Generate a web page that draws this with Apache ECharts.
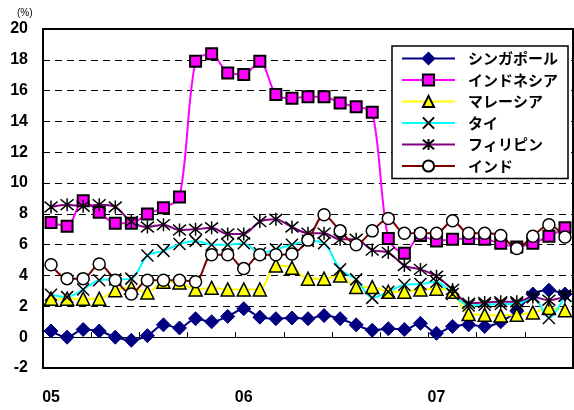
<!DOCTYPE html>
<html>
<head>
<meta charset="utf-8">
<script src="https://cdn.jsdelivr.net/npm/echarts@6/dist/echarts.min.js"></script>
<style>
  html, body { margin: 0; padding: 0; background: #fff; }
  #chart { width: 574px; height: 410px; }
</style>
</head>
<body>
<div id="chart"></div>
<script>
// Monthly categories, Jan 2005 - Sep 2007
const categories = [
  '2005-01','2005-02','2005-03','2005-04','2005-05','2005-06','2005-07','2005-08','2005-09','2005-10','2005-11','2005-12',
  '2006-01','2006-02','2006-03','2006-04','2006-05','2006-06','2006-07','2006-08','2006-09','2006-10','2006-11','2006-12',
  '2007-01','2007-02','2007-03','2007-04','2007-05','2007-06','2007-07','2007-08','2007-09'
];
// Year labels shown under January of each year
const yearLabels = { '2005-01': '05', '2006-01': '06', '2007-01': '07' };

const seriesNames = ['シンガポール', 'インドネシア', 'マレーシア', 'タイ', 'フィリピン', 'インド'];

// Consumer price inflation, % year on year
const singapore   = [0.4,0.0,0.5,0.4,0.0,-0.2,0.1,0.8,0.6,1.2,1.0,1.35,1.85,1.3,1.2,1.25,1.2,1.4,1.2,0.8,0.45,0.55,0.5,0.9,0.25,0.7,0.8,0.7,1.0,1.7,2.8,3.05,2.8];
const indonesia   = [7.45,7.2,8.85,8.1,7.4,7.4,8.0,8.4,9.1,17.9,18.4,17.15,17.05,17.9,15.75,15.5,15.6,15.6,15.2,14.95,14.6,6.4,5.45,6.6,6.25,6.35,6.4,6.35,6.1,5.85,6.1,6.55,7.1];
const malaysia    = [2.5,2.5,2.5,2.5,3.05,3.2,2.9,3.6,3.55,3.1,3.2,3.1,3.1,3.1,4.65,4.5,3.8,3.8,4.0,3.25,3.25,2.95,2.95,3.1,3.15,2.95,1.5,1.45,1.4,1.45,1.6,1.9,1.75];
const thailand    = [2.75,2.6,3.1,3.7,3.75,3.8,5.3,5.6,6.05,6.25,6.0,6.0,6.1,5.45,5.7,6.0,6.25,6.1,4.4,3.75,2.55,2.95,3.4,3.45,3.6,2.8,2.05,2.1,2.15,2.15,2.6,1.25,2.7];
const philippines = [8.45,8.6,8.5,8.6,8.45,7.5,7.15,7.3,6.95,7.0,7.1,6.7,6.7,7.5,7.65,7.15,6.75,6.75,6.35,6.35,5.65,5.5,4.65,4.4,3.95,3.1,2.2,2.25,2.3,2.3,2.6,2.4,2.65];
const india       = [4.7,3.8,3.8,4.75,3.7,2.8,3.7,3.7,3.7,3.6,5.35,5.35,4.45,5.35,5.35,5.4,6.3,7.95,6.9,6.0,6.9,7.7,6.75,6.75,6.75,7.55,6.75,6.75,6.6,5.75,6.55,7.3,6.5];

const yMin = -2, yMax = 20, yStep = 2;

const numFont = '"Liberation Sans Narrow", "Liberation Sans", Arial, sans-serif';
const cjkFont = '"Noto Sans CJK JP", "Noto Sans", sans-serif';

// Stroke-only marker shapes
const crossPath = 'path://M0,0L10,10M10,0L0,10';
const starPath = 'path://M0,0L10,10M10,0L0,10M5,-1L5,11';

function lineSeries(name, data, lineColor, symbol, size, itemStyle) {
  return {
    name: name,
    type: 'line',
    data: data,
    xAxisIndex: 0,
    yAxisIndex: 0,
    smooth: 0.3,
    showAllSymbol: true,
    symbol: symbol,
    symbolSize: size,
    color: lineColor,
    lineStyle: { color: lineColor, width: 2 },
    itemStyle: itemStyle,
    emphasis: { disabled: true },
    animation: false
  };
}

const chart = echarts.init(document.getElementById('chart'), null, { renderer: 'canvas' });

chart.setOption({
  animation: false,
  backgroundColor: '#fff',
  grid: {
    left: 43, right: 1, top: 29, bottom: 42,
    show: true,
    borderColor: '#000',
    borderWidth: 2,
    backgroundColor: 'transparent'
  },
  graphic: [{
    type: 'text',
    left: 17, top: 8,
    style: { text: '(%)', fontSize: 10, fontFamily: numFont, fill: '#000' }
  }],
  legend: {
    orient: 'vertical',
    left: 392, top: 46,
    width: 174,
    padding: [5, 10, 5, 9],
    backgroundColor: '#fff',
    borderColor: '#000',
    borderWidth: 1.5,
    itemWidth: 53,
    itemHeight: 14,
    itemGap: 6.5,
    data: seriesNames,
    textStyle: {
      fontFamily: cjkFont,
      fontWeight: 'bold',
      fontSize: 15,
      lineHeight: 15,
      color: '#000',
      padding: [0, 0, 0, 8]
    }
  },
  xAxis: [{
    type: 'category',
    data: categories,
    boundaryGap: true,
    position: 'bottom',
    axisLine: { show: false, onZero: false },
    axisTick: { show: false },
    splitLine: { show: false },
    axisLabel: {
      interval: 0,
      margin: 22,
      fontFamily: numFont,
      fontWeight: 'bold',
      fontSize: 16,
      color: '#000',
      formatter: v => yearLabels[v] || ''
    }
  }, {
    // Zero line with quarterly ticks
    type: 'category',
    data: categories,
    boundaryGap: true,
    position: 'bottom',
    axisLine: { show: true, onZero: true, lineStyle: { color: '#000', width: 1 } },
    axisTick: { show: true, inside: true, interval: 2, length: 5, lineStyle: { color: '#000', width: 1 } },
    axisLabel: { show: false },
    splitLine: { show: false }
  }],
  yAxis: [{
    type: 'value',
    min: yMin, max: yMax, interval: yStep,
    axisLine: { show: false },
    axisTick: { show: false },
    axisLabel: {
      margin: 15,
      fontFamily: numFont,
      fontWeight: 'bold',
      fontSize: 16,
      color: '#000'
    },
    splitLine: {
      show: true,
      lineStyle: { color: '#000', width: 1, type: [7, 5] }
    }
  }],
  series: [
    lineSeries(seriesNames[0], singapore, '#000080', 'diamond', 14,
      { color: '#000080', borderColor: '#000080', borderWidth: 1 }),
    lineSeries(seriesNames[1], indonesia, '#FF00FF', 'rect', 11,
      { color: '#FF00FF', borderColor: '#000', borderWidth: 2 }),
    lineSeries(seriesNames[2], malaysia, '#FFFF00', 'triangle', 13,
      { color: '#FFFF00', borderColor: '#000', borderWidth: 1.5 }),
    lineSeries(seriesNames[3], thailand, '#00FFFF', crossPath, 12,
      { color: '#000', borderColor: '#000', borderWidth: 1.5 }),
    lineSeries(seriesNames[4], philippines, '#800080', starPath, 13,
      { color: '#000', borderColor: '#000', borderWidth: 1.5 }),
    lineSeries(seriesNames[5], india, '#800000', 'circle', 12,
      { color: '#fff', borderColor: '#000', borderWidth: 1.5 })
  ]
});
</script>
</body>
</html>
